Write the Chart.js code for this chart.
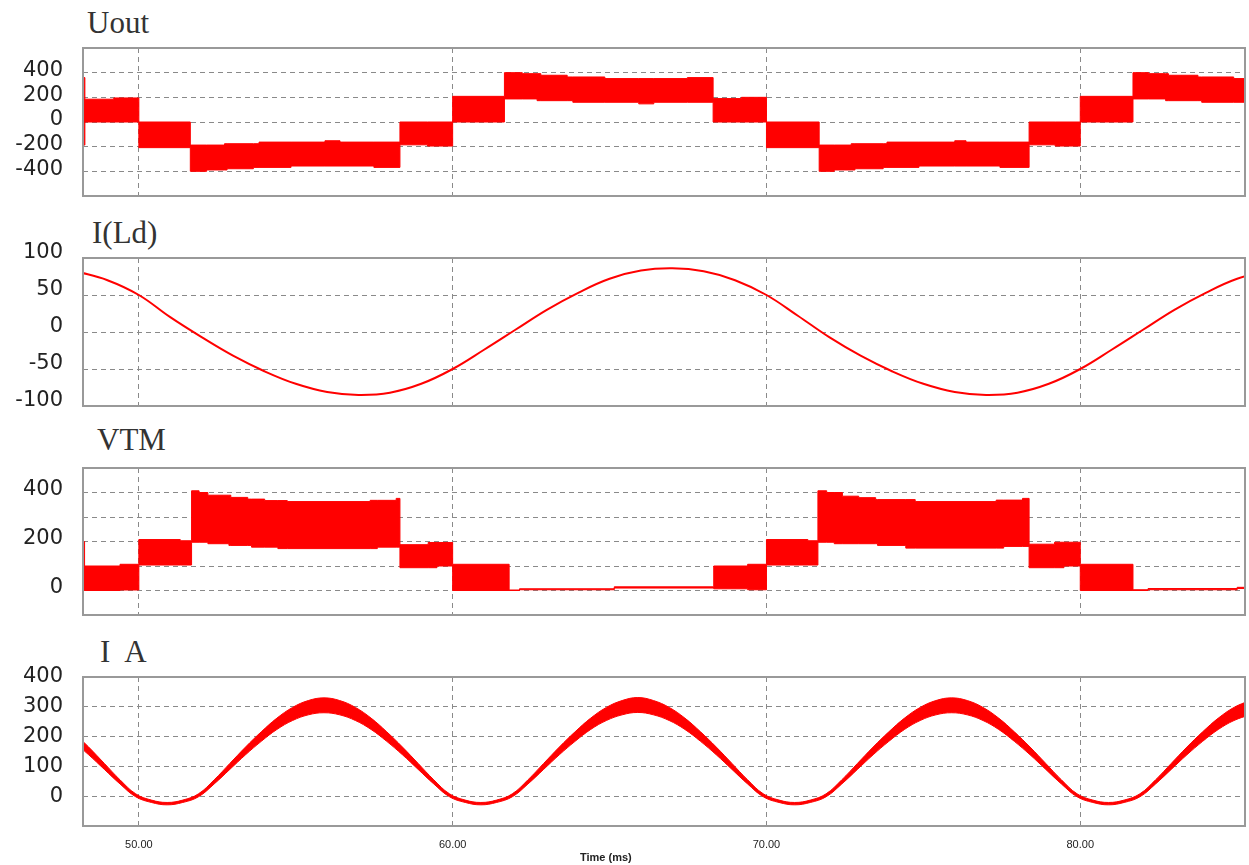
<!DOCTYPE html>
<html><head><meta charset="utf-8">
<script src="https://cdn.jsdelivr.net/npm/chart.js@4.4.1/dist/chart.umd.min.js"></script>
<style>
html,body{margin:0;padding:0;background:#fff;}
body{width:1249px;height:865px;position:relative;overflow:hidden;}
canvas{position:absolute;left:0;}
.title{position:absolute;font-family:'Liberation Serif',serif;font-size:31px;line-height:31px;color:#333;white-space:pre;}
#xtitle{position:absolute;left:580px;top:851px;font-family:'Liberation Sans',Arial,sans-serif;font-weight:bold;font-size:11px;line-height:12px;color:#222;white-space:pre;}
</style></head><body>
<div class="title" style="left:87px;top:7px">Uout</div>
<div class="title" style="left:92px;top:217px">I(Ld)</div>
<div class="title" style="left:97px;top:424px">VTM</div>
<div class="title" style="left:100px;top:636px;letter-spacing:4px">I A</div>
<canvas id="c1" width="1249" height="188" style="top:28px"></canvas>
<canvas id="c2" width="1249" height="188" style="top:238px"></canvas>
<canvas id="c3" width="1249" height="187" style="top:448px"></canvas>
<canvas id="c4" width="1249" height="208" style="top:657px"></canvas>
<div id="xtitle">Time (ms)</div>
<script>
// ---- data (time in ms) ----
const xTicks = [50, 60, 70, 80];

// Uout: PWM band, segment start times with upper / lower envelope (V)
const uoutTime  = [48.22, 48.28, 49.2, 50.0, 51.64, 52.16, 52.73, 52.81, 53.65, 53.83, 54.85, 55.93, 56.41, 57.49, 58.32, 59.2, 60.0, 61.65, 62.22, 62.69, 62.81, 63.65, 63.83, 64.85, 65.93, 66.41, 67.48, 68.30, 69.2, 70.0, 71.68, 72.16, 72.70, 72.82, 73.72, 73.84, 74.86, 76.00, 76.36, 77.44, 78.37, 79.2, 80.0, 81.68, 82.18, 82.72, 82.81, 83.75, 83.87, 84.89, 85.4];
const uoutUpper = [360, 185, 195, 0, -187, -187, -176, -176, -176, -163, -163, -152, -163, -163, 0, 0, 208, 400, 392, 392, 379, 365, 365, 352, 352, 352, 360, 190, 200, 0, -187, -187, -176, -176, -176, -163, -163, -152, -163, -163, 0, 0, 208, 400, 392, 392, 379, 365, 365, 352, 352];
const uoutLower = [-187, 0, 0, -208, -400, -389, -389, -379, -368, -368, -357, -357, -357, -368, -185, -195, 0, 187, 187, 173, 173, 173, 160, 160, 147, 160, 160, 0, 0, -208, -400, -389, -389, -379, -368, -368, -357, -357, -357, -368, -185, -195, 0, 187, 187, 173, 173, 173, 160, 160, 160];

// I(Ld): inductor current (A)
const ildTime  = [48, 49, 50, 51, 52, 53, 54, 55, 56, 57, 58, 59, 60, 61, 62, 63, 64, 65, 66, 67, 68, 69, 70, 71, 72, 73, 74, 75, 76, 77, 78, 79, 80, 81, 82, 83, 84, 85, 86];
const ildValue = [82, 70, 50, 20, -7, -32, -53, -70, -81, -85, -82, -70, -50, -24, 3, 30, 53, 72, 83, 86, 82, 70, 50, 22, -7, -32, -53, -70, -81, -85, -82, -70, -50, -24, 3, 30, 53, 72, 83];

// VTM: PWM band, segment start times with upper / lower envelope (V)
const vtmTime  = [48.22, 48.27, 49.40, 50.0, 51.32, 51.68, 51.92, 52.20, 52.87, 52.93, 53.47, 53.59, 54.01, 54.43, 54.73, 57.37, 57.60, 58.20, 58.32, 59.22, 59.50, 60.0, 61.80, 62.13, 65.15, 68.32, 69.40, 70.0, 71.32, 71.64, 71.92, 72.16, 72.42, 72.94, 73.48, 73.54, 74.44, 74.74, 77.32, 77.56, 78.16, 78.37, 79.18, 79.48, 80.0, 81.68, 82.16, 85.0, 85.4];
const vtmUpper = [200, 100, 107, 208, 203, 407, 400, 389, 389, 380, 373, 373, 367, 367, 363, 368, 368, 376, 187, 196, 196, 107, 2, 7, 15, 100, 107, 208, 203, 407, 400, 400, 385, 379, 371, 371, 371, 363, 369, 369, 376, 189, 197, 197, 107, 3, 8, 13, 13];
const vtmLower = [0, 0, 2, 104, 104, 197, 197, 191, 184, 184, 184, 177, 177, 171, 171, 171, 177, 177, 93, 93, 100, 0, 0, 3, 10, 7, 3, 104, 104, 197, 197, 191, 191, 191, 191, 184, 173, 173, 173, 180, 180, 93, 93, 100, 0, 0, 3, 8, 8];

// IA: ripple band, upper / lower envelope (A)
const iaTime  = [47.9, 48.4, 48.9, 49.4, 49.9, 50.4, 50.9, 51.4, 51.9, 52.4, 52.9, 53.4, 53.9, 54.4, 54.9, 55.4, 55.9, 56.4, 56.9, 57.4, 57.9, 58.4, 58.9, 59.4, 59.9, 60.4, 60.9, 61.4, 61.9, 62.4, 62.9, 63.4, 63.9, 64.4, 64.9, 65.4, 65.9, 66.4, 66.9, 67.4, 67.9, 68.4, 68.9, 69.4, 69.9, 70.4, 70.9, 71.4, 71.9, 72.4, 72.9, 73.4, 73.9, 74.4, 74.9, 75.4, 75.9, 76.4, 76.9, 77.4, 77.9, 78.4, 78.9, 79.4, 79.9, 80.4, 80.9, 81.4, 81.9, 82.4, 82.9, 83.4, 83.9, 84.4, 84.9, 85.4];
const iaUpper = [216, 165, 110, 55, 8, -13, -21, -13, 8, 55, 110, 165, 216, 262, 298, 321, 330, 321, 298, 262, 216, 165, 110, 55, 8, -13, -21, -13, 8, 55, 110, 165, 216, 262, 298, 321, 331, 321, 298, 262, 216, 165, 110, 55, 8, -13, -21, -13, 8, 55, 110, 165, 216, 262, 298, 321, 330, 321, 298, 262, 216, 165, 110, 55, 8, -13, -21, -13, 8, 55, 110, 165, 216, 262, 298, 321];
const iaLower = [184, 139, 90, 41, -2, -21, -29, -21, -2, 41, 90, 139, 184, 224, 254, 273, 280, 273, 254, 224, 184, 139, 90, 41, -2, -21, -29, -21, -2, 41, 90, 139, 184, 224, 254, 273, 281, 273, 254, 224, 184, 139, 90, 41, -2, -21, -29, -21, -2, 41, 90, 139, 184, 224, 254, 273, 280, 273, 254, 224, 184, 139, 90, 41, -2, -21, -29, -21, -2, 41, 90, 139, 184, 224, 254, 273];

// ---- chart construction ----
const RED = '#ff0000';
const GRID = '#8a8a8a';
const pts = (t, v) => t.map((x, i) => ({x: x, y: v[i]}));

const framePlugin = {
  id: 'frame',
  afterDraw(chart) {
    const {ctx, chartArea: a} = chart;
    ctx.save();
    ctx.strokeStyle = '#999999';
    ctx.lineWidth = 2;
    ctx.strokeRect(a.left, a.top, a.right - a.left, a.bottom - a.top);
    ctx.restore();
  }
};

function band(t, up, lo, opts) {
  return [
    Object.assign({data: pts(t, up), borderColor: RED, borderWidth: 1, pointRadius: 0, fill: false}, opts),
    Object.assign({data: pts(t, lo), borderColor: RED, borderWidth: 1, pointRadius: 0, fill: '-1', backgroundColor: RED}, opts)
  ];
}

function noPad(s) { s.paddingTop = 0; s.paddingBottom = 0; s.paddingLeft = 0; s.paddingRight = 0; }

function makePanel(id, datasets, y, showX) {
  new Chart(document.getElementById(id), {
    type: 'line',
    data: {datasets: datasets},
    plugins: [framePlugin],
    options: {
      responsive: false,
      animation: false,
      events: [],
      layout: {padding: {left: 0, right: 4, top: 20, bottom: showX ? 0 : 20}},
      plugins: {legend: {display: false}, tooltip: {enabled: false}},
      scales: {
        x: {
          type: 'linear', min: 48.22, max: 85.25,
          afterBuildTicks: s => { s.ticks = xTicks.map(v => ({value: v})); },
          afterFit: s => { s.height = showX ? 39 : 0; noPad(s); },
          grid: {color: GRID, lineWidth: 1, drawTicks: false},
          border: {display: false, dash: [5, 4]},
          ticks: {display: showX, padding: 12, maxRotation: 0, autoSkip: false,
                  font: {family: 'Liberation Sans', size: 11}, color: '#222',
                  callback: v => Number(v).toFixed(2)}
        },
        y: {
          type: 'linear', min: y.min, max: y.max,
          afterFit: s => { s.width = 83; noPad(s); },
          grid: {color: GRID, lineWidth: 1, drawTicks: false},
          border: {display: false, dash: [5, 4]},
          ticks: {stepSize: y.step, padding: 20, labelOffset: y.offset, align: y.align || 'center',
                  font: {family: 'DejaVu Sans', size: 21}, color: '#222',
                  callback: y.cb}
        }
      }
    }
  });
}

makePanel('c1', band(uoutTime, uoutUpper, uoutLower, {stepped: 'before'}),
  {min: -600, max: 600, step: 200, offset: -2, cb: v => (v === 600 || v === -600) ? null : String(v)}, false);

makePanel('c2', [{data: pts(ildTime, ildValue), borderColor: RED, borderWidth: 2, pointRadius: 0, fill: false, tension: 0.4}],
  {min: -100, max: 100, step: 50, offset: -5, align: 'inner', cb: v => String(v)}, false);

makePanel('c3', band(vtmTime, vtmUpper, vtmLower, {stepped: 'before'}),
  {min: -100, max: 500, step: 100, offset: -3, cb: v => (v === -100 || v === 500) ? null : (v % 200 === 0 ? String(v) : '')}, false);

makePanel('c4', band(iaTime, iaUpper, iaLower, {tension: 0.4}),
  {min: -100, max: 400, step: 100, offset: 0, cb: v => v === -100 ? null : String(v)}, true);
</script>
</body></html>
